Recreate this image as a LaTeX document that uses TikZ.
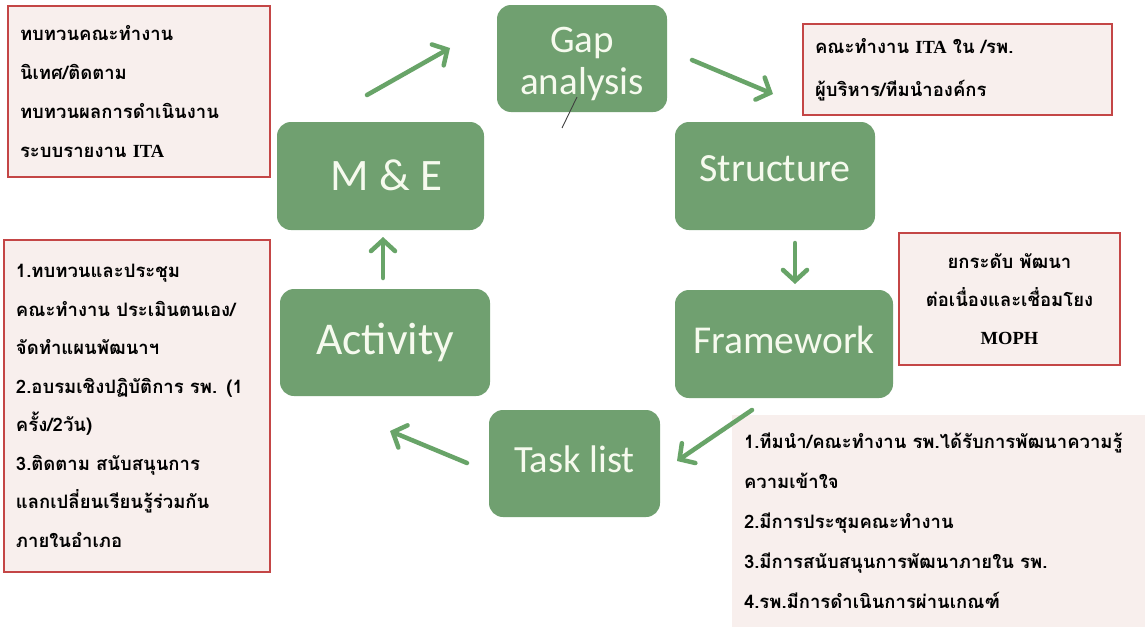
\documentclass[tikz,border=0pt]{standalone}
\usepackage{fontspec}
\newfontfamily\thai[Script=Thai]{Loma}
\newfontfamily\calib{Carlito}
\newfontfamily\lser{Liberation Serif}
\newcommand{\lat}[1]{{\lser\bfseries #1}}
\newcommand{\lbl}[2]{\raisebox{#1}[0pt][0pt]{#2}}
\usetikzlibrary{arrows.meta}
\definecolor{boxgreen}{RGB}{112,160,112}
\definecolor{labelcream}{RGB}{246,250,238}
\definecolor{arrowgreen}{RGB}{104,164,104}
\definecolor{notefill}{RGB}{248,239,237}
\definecolor{noteborder}{RGB}{196,70,70}
\tikzset{
  gbox/.style={fill=boxgreen, rounded corners=14pt, text=labelcream, align=center, inner sep=0pt},
  note/.style={fill=notefill, draw=noteborder, line width=1.3pt, inner xsep=12pt, inner ysep=0pt,
    font=\thai\bfseries\fontsize{18.5}{39}\selectfont},
  garrow/.style={draw=arrowgreen, line width=4.5pt, line cap=round,
    -{Straight Barb[length=11pt,width=24pt,line cap=round]}}
}
\begin{document}
\begin{tikzpicture}[x=1pt,y=-1pt]
\useasboundingbox (0,0) rectangle (1145,629);
\fill[white] (0,0) rectangle (1145,629);

% green process boxes
\node[gbox, minimum width=170pt, minimum height=107pt, font=\calib\fontsize{39}{42}\selectfont] (gap) at (582,58.5)
  {\lbl{-36pt}{\begin{tabular}[b]{@{}c@{}}Gap\\analysis\end{tabular}}};
\node[gbox, minimum width=200pt, minimum height=108pt, font=\calib\fontsize{40}{43}\selectfont] (struct) at (775,176) {\lbl{-5pt}{Structure}};
\node[gbox, minimum width=218pt, minimum height=108pt, font=\calib\fontsize{39.5}{43}\selectfont] (frame) at (784,344) {\lbl{-9pt}{Framework}};
\node[gbox, minimum width=171pt, minimum height=107pt, font=\calib\fontsize{38.5}{43}\selectfont] (task) at (574.5,463.5) {\lbl{-9pt}{Task list}};
\node[gbox, minimum width=210pt, minimum height=107pt, font=\calib\fontsize{45.5}{43}\selectfont] (act) at (385,342.5) {\lbl{-12pt}{Activity}};
\node[gbox, minimum width=207pt, minimum height=108pt, font=\calib\fontsize{45}{43}\selectfont] (me) at (380.5,176) {\lbl{-14pt}{\hspace*{12pt}M \& E}};

% stray mark under Gap analysis
\coordinate (s1) at (577,97);
\coordinate (s2) at (562,128);
\draw[line width=0.9pt, black!75] (s1) -- (s2);

% note boxes
\node[note, minimum width=262pt, minimum height=171pt, text width=238pt, align=left] (ntl) at (139,91.5)
  {ทบทวนคณะทำงาน\\นิเทศ/ติดตาม\\ทบทวนผลการดำเนินงาน\\ระบบรายงาน \lat{ITA}};
\node[note, minimum width=309pt, minimum height=91pt, text width=285pt, align=left,
  font=\thai\bfseries\fontsize{18.5}{43}\selectfont] (ntr) at (957.5,69.5)
  {คณะทำงาน \lat{ITA} ใน /รพ.\\ผู้บริหาร/ทีมนำองค์กร};
\node[note, minimum width=266pt, minimum height=332pt, text width=242pt, align=left,
  font=\thai\bfseries\fontsize{18.5}{38.5}\selectfont] (nlb) at (137,406)
  {1.ทบทวนและประชุม\\คณะทำงาน ประเมินตนเอง/\\จัดทำแผนพัฒนาฯ\\2.อบรมเชิงปฏิบัติการ รพ. (1\\ครั้ง/2วัน)\\3.ติดตาม สนับสนุนการ\\แลกเปลี่ยนเรียนรู้ร่วมกัน\\ภายในอำเภอ};
\node[note, minimum width=221pt, minimum height=132pt, text width=197pt, align=center,
  font=\thai\bfseries\fontsize{18.5}{38}\selectfont] (nrm) at (1009.5,299)
  {ยกระดับ พัฒนา\\ต่อเนื่องและเชื่อมโยง\\\lat{MOPH}};
\node[note, draw=none, minimum width=413pt, minimum height=212pt, text width=389pt, align=left,
  font=\thai\bfseries\fontsize{18.5}{40}\selectfont] (nbr) at (938.5,521)
  {1.ทีมนำ/คณะทำงาน รพ.ได้รับการพัฒนาความรู้\\ความเข้าใจ\\2.มีการประชุมคณะทำงาน\\3.มีการสนับสนุนการพัฒนาภายใน รพ.\\4.รพ.มีการดำเนินการผ่านเกณฑ์};

% cycle arrows
\coordinate (a1s) at (367,95);   \coordinate (a1e) at (450,48);
\coordinate (a2s) at (692,60);   \coordinate (a2e) at (773,94);
\coordinate (a3s) at (795,243);  \coordinate (a3e) at (795,284);
\coordinate (a4s) at (752,410);  \coordinate (a4e) at (677,461);
\coordinate (a5s) at (467,463);  \coordinate (a5e) at (390,431);
\coordinate (a6s) at (383,278);  \coordinate (a6e) at (383,237);
\draw[garrow] (a1s) -- (a1e);
\draw[garrow] (a2s) -- (a2e);
\draw[garrow] (a3s) -- (a3e);
\draw[garrow] (a4s) -- (a4e);
\draw[garrow] (a5s) -- (a5e);
\draw[garrow] (a6s) -- (a6e);
\end{tikzpicture}
\end{document}
